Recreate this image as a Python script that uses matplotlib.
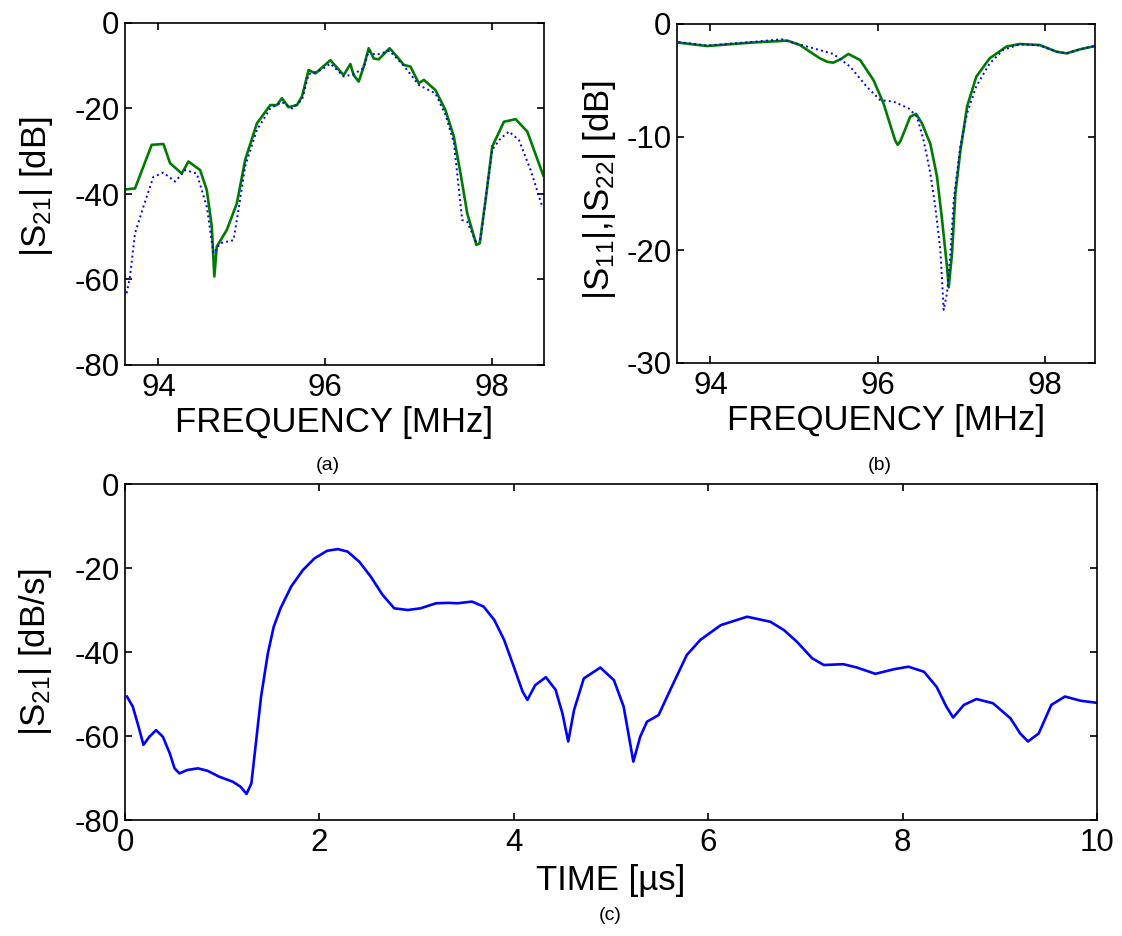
import matplotlib
matplotlib.use("Agg")
import matplotlib.pyplot as plt

plt.rcParams['font.family'] = ['Liberation Sans', 'DejaVu Sans']
plt.rcParams['mathtext.fontset'] = 'custom'
plt.rcParams['mathtext.rm'] = 'Liberation Sans'
plt.rcParams['mathtext.it'] = 'Liberation Sans'
plt.rcParams['axes.unicode_minus'] = False

# ---------------- data (a): |S21| vs frequency ----------------
a_green_f = [93.62, 93.72, 93.92, 94.06, 94.14, 94.28, 94.36, 94.50, 94.58, 94.64, 94.67,
             94.70, 94.82, 94.94, 95.04, 95.18, 95.34, 95.42, 95.48, 95.56, 95.66, 95.72,
             95.80, 95.88, 96.06, 96.22, 96.30, 96.34, 96.40, 96.46, 96.52, 96.58, 96.64,
             96.77, 96.86, 96.94, 97.02, 97.12, 97.18, 97.32, 97.44, 97.54, 97.62, 97.70,
             97.81, 97.85, 97.92, 98.00, 98.14, 98.28, 98.42, 98.61]
a_green_db = [-38.9, -38.7, -28.5, -28.3, -32.8, -35.2, -32.4, -34.4, -39.1, -47.6, -59.3,
              -52.3, -48.4, -42.2, -32.0, -23.5, -19.2, -19.2, -17.6, -19.7, -19.2, -17.2,
              -11.0, -11.8, -8.7, -12.2, -9.6, -12.2, -13.7, -10.2, -5.9, -8.3, -8.5,
              -5.9, -7.9, -9.8, -10.2, -14.1, -13.3, -15.7, -20.4, -26.6, -35.2, -44.5,
              -51.9, -51.5, -41.4, -28.9, -23.1, -22.5, -25.4, -35.6]
a_blue_f = [93.62, 93.66, 93.72, 93.82, 93.94, 94.06, 94.20, 94.32, 94.46, 94.58, 94.66,
            94.74, 94.90, 94.96, 95.04, 95.18, 95.34, 95.48, 95.60, 95.72, 95.80, 95.95,
            96.06, 96.22, 96.34, 96.46, 96.52, 96.60, 96.77, 96.94, 97.12, 97.32, 97.44,
            97.54, 97.64, 97.70, 97.80, 97.86, 97.94, 98.00, 98.10, 98.20, 98.32, 98.46, 98.60]
a_blue_db = [-63.2, -59.3, -49.2, -43.0, -36.0, -35.0, -37.1, -34.4, -35.2, -43.0, -53.9,
             -51.5, -50.8, -43.7, -33.5, -25.0, -20.0, -18.5, -20.0, -18.0, -12.0, -11.0,
             -9.5, -12.5, -12.0, -10.5, -6.5, -7.5, -6.5, -10.0, -14.5, -16.5, -21.5,
             -28.0, -46.1, -46.5, -51.0, -50.5, -38.3, -29.6, -27.0, -25.4, -27.4, -34.4, -43.0]

# ---------------- data (b): |S11|, |S22| vs frequency ----------------
b_green_f = [93.62, 93.96, 94.48, 94.92, 95.07, 95.20, 95.31, 95.40, 95.47, 95.56, 95.65,
             95.79, 95.95, 96.07, 96.17, 96.21, 96.24, 96.27, 96.31, 96.39, 96.46, 96.53,
             96.63, 96.71, 96.77, 96.83, 96.85, 96.89, 96.93, 96.99, 97.07, 97.18, 97.34,
             97.54, 97.70, 97.94, 98.14, 98.26, 98.42, 98.60]
b_green_db = [-1.65, -1.95, -1.65, -1.47, -1.86, -2.5, -3.04, -3.35, -3.42, -3.1, -2.65,
              -3.19, -4.96, -7.02, -9.38, -10.3, -10.7, -10.4, -9.68, -8.2, -7.96, -8.79,
              -10.6, -13.5, -17.3, -21.5, -23.3, -20.3, -15.0, -11.2, -7.3, -4.66, -3.04,
              -2.0, -1.77, -1.86, -2.45, -2.6, -2.24, -1.95]
b_blue_f = [93.62, 93.96, 94.48, 94.85, 95.23, 95.47, 95.67, 95.87, 96.03, 96.19, 96.37,
            96.47, 96.55, 96.63, 96.69, 96.75, 96.79, 96.83, 96.87, 96.91, 96.99, 97.07,
            97.18, 97.34, 97.50, 97.70, 97.94, 98.14, 98.26, 98.42, 98.60]
b_blue_db = [-1.6, -1.9, -1.6, -1.35, -2.15, -2.65, -3.77, -5.55, -6.73, -6.87, -7.46,
             -8.2, -10.3, -13.2, -16.2, -20.0, -25.3, -23.8, -20.3, -15.6, -10.8, -7.9,
             -5.5, -3.5, -2.3, -1.8, -1.9, -2.45, -2.6, -2.24, -1.95]

# ---------------- data (c): |S21| vs time ----------------
c_t = [0.02, 0.08, 0.13, 0.19, 0.25, 0.32, 0.39, 0.46, 0.51, 0.56, 0.64, 0.75, 0.85, 0.97,
       1.11, 1.19, 1.25, 1.30, 1.35, 1.40, 1.47, 1.53, 1.60, 1.71, 1.83, 1.95, 2.08, 2.19,
       2.29, 2.41, 2.53, 2.65, 2.77, 2.91, 3.04, 3.20, 3.33, 3.42, 3.57, 3.69, 3.80, 3.90,
       4.00, 4.09, 4.14, 4.22, 4.33, 4.43, 4.50, 4.56, 4.62, 4.72, 4.89, 5.03, 5.13, 5.23,
       5.30, 5.37, 5.49, 5.61, 5.78, 5.92, 6.13, 6.40, 6.64, 6.78, 6.91, 7.07, 7.19, 7.39,
       7.53, 7.72, 7.91, 8.06, 8.22, 8.35, 8.45, 8.52, 8.63, 8.76, 8.93, 9.11, 9.21, 9.29,
       9.40, 9.53, 9.67, 9.83, 10.0]
c_db = [-50.6, -53.0, -57.0, -62.1, -60.2, -58.6, -60.2, -64.1, -67.7, -68.9, -68.1, -67.7,
        -68.3, -69.7, -70.9, -72.1, -73.8, -71.3, -61.0, -50.6, -40.3, -34.0, -29.6, -24.4,
        -20.5, -17.7, -15.9, -15.5, -16.1, -18.5, -22.1, -26.4, -29.6, -30.0, -29.6, -28.4,
        -28.3, -28.4, -28.0, -29.2, -32.4, -37.1, -43.5, -49.4, -51.4, -47.9, -46.0, -49.0,
        -54.6, -61.3, -53.8, -46.3, -43.7, -46.7, -53.0, -66.1, -60.2, -56.6, -55.0, -49.0,
        -40.7, -37.1, -33.6, -31.6, -32.8, -34.8, -37.5, -41.5, -43.1, -42.9, -43.7, -45.2,
        -44.1, -43.5, -44.7, -48.3, -53.0, -55.6, -52.6, -51.2, -52.2, -55.8, -59.4, -61.3,
        -59.4, -52.6, -50.6, -51.6, -52.1]

freq_ticks = [94, 96, 98]
a_yticks = [0, -20, -40, -60, -80]
b_yticks = [0, -10, -20, -30]
c_xticks = [0, 2, 4, 6, 8, 10]
c_yticks = [0, -20, -40, -60, -80]

GREEN = '#007a00'
BLUE = '#0000ff'
TICK_FS = 22.5
LABEL_FS = 25

W, H = 1122, 936
fig = plt.figure(figsize=(W / 100, H / 100), dpi=100)


def box(l, t, r, b):
    return [l / W, 1 - b / H, (r - l) / W, (b - t) / H]


def style(ax):
    for s in ax.spines.values():
        s.set_linewidth(1.2)
    ax.tick_params(direction='in', top=True, right=True, length=5, width=1.2,
                   labelsize=TICK_FS)
    ax.tick_params(axis='x', pad=6)
    ax.tick_params(axis='y', pad=4)


# (a)
axa = fig.add_axes(box(125, 23, 544, 365))
axa.plot(a_green_f, a_green_db, color=GREEN, lw=1.9)
axa.plot(a_blue_f, a_blue_db, color=BLUE, lw=1.4, ls=':')
axa.set_xlim(93.6, 98.62)
axa.set_ylim(-80, 0)
axa.set_xticks(freq_ticks)
axa.set_yticks(a_yticks)
style(axa)
axa.set_xlabel('FREQUENCY [MHz]', fontsize=LABEL_FS)
axa.set_ylabel(r'|S$_{21}$| [dB]', fontsize=LABEL_FS)
axa.xaxis.set_label_coords(0.5, -0.12)
axa.yaxis.set_label_coords(-0.168, 0.52)

# (b)
axb = fig.add_axes(box(677, 24, 1095, 363))
axb.plot(b_green_f, b_green_db, color=GREEN, lw=1.9)
axb.plot(b_blue_f, b_blue_db, color=BLUE, lw=1.4, ls=':')
axb.set_xlim(93.6, 98.6)
axb.set_ylim(-30, 0)
axb.set_xticks(freq_ticks)
axb.set_yticks(b_yticks)
style(axb)
axb.set_xlabel('FREQUENCY [MHz]', fontsize=LABEL_FS)
axb.set_ylabel(r'|S$_{11}$|,|S$_{22}$| [dB]', fontsize=LABEL_FS)
axb.xaxis.set_label_coords(0.5, -0.12)
axb.yaxis.set_label_coords(-0.141, 0.51)

# (c)
axc = fig.add_axes(box(125, 484, 1097, 820))
axc.plot(c_t, c_db, color=BLUE, lw=1.9)
axc.set_xlim(0, 10)
axc.set_ylim(-80, 0)
axc.set_xticks(c_xticks)
axc.set_yticks(c_yticks)
style(axc)
axc.set_xlabel('TIME [µs]', fontsize=LABEL_FS)
axc.set_ylabel(r'|S$_{21}$| [dB/s]', fontsize=LABEL_FS)
axc.xaxis.set_label_coords(0.5, -0.13)
axc.yaxis.set_label_coords(-0.073, 0.5)

fig.text(328 / W, 1 - 466 / H, '(a)', fontsize=14, ha='center', va='center')
fig.text(880 / W, 1 - 466 / H, '(b)', fontsize=14, ha='center', va='center')
fig.text(610 / W, 1 - 915 / H, '(c)', fontsize=14, ha='center', va='center')

fig.savefig('out.png', dpi=100, facecolor='white')
